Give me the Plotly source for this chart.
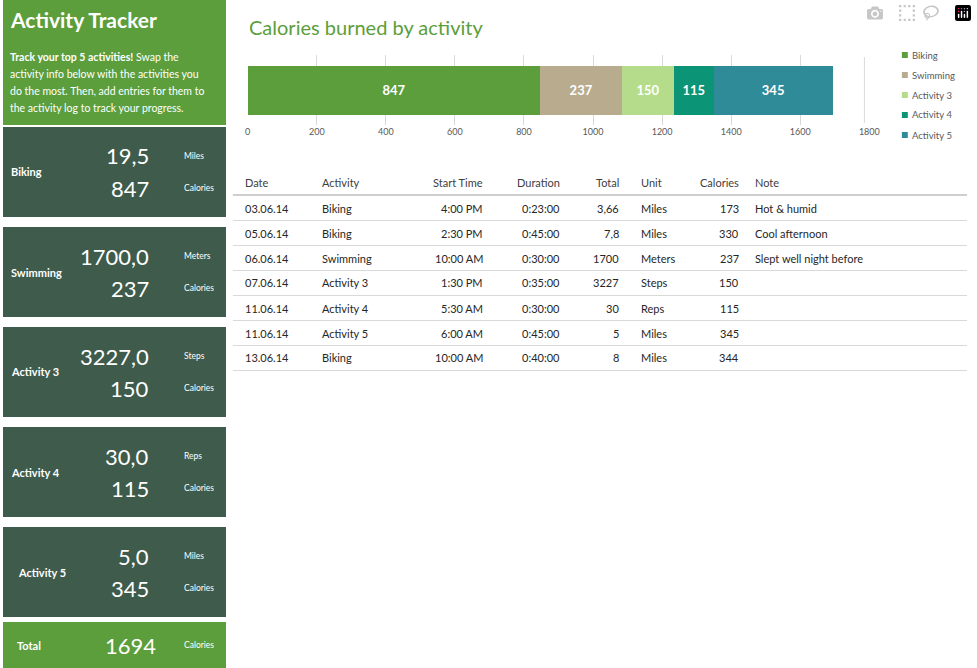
import plotly.graph_objects as go

activities = ["Biking", "Swimming", "Activity 3", "Activity 4", "Activity 5"]
calories = [847, 237, 150, 115, 345]
amounts = ["19,5", "1700,0", "3227,0", "30,0", "5,0"]
units = ["Miles", "Meters", "Steps", "Reps", "Miles"]
bar_colors = ["#5b9e3b", "#b9ac8e", "#b5dc8a", "#0b9475", "#2f8b97"]
total_cal = "1694"

log_dates = ["03.06.14", "05.06.14", "06.06.14", "07.06.14", "11.06.14", "11.06.14", "13.06.14"]
log_act = ["Biking", "Biking", "Swimming", "Activity 3", "Activity 4", "Activity 5", "Biking"]
log_start = ["4:00 PM", "2:30 PM", "10:00 AM", "1:30 PM", "5:30 AM", "6:00 AM", "10:00 AM"]
log_dur = ["0:23:00", "0:45:00", "0:30:00", "0:35:00", "0:30:00", "0:45:00", "0:40:00"]
log_total = ["3,66", "7,8", "1700", "3227", "30", "5", "8"]
log_unit = ["Miles", "Miles", "Meters", "Steps", "Reps", "Miles", "Miles"]
log_cal = ["173", "330", "237", "150", "115", "345", "344"]
log_note = ["Hot & humid", "Cool afternoon", "Slept well night before", "", "", "", ""]
headers = ["Date", "Activity", "Start Time", "Duration", "Total", "Unit", "Calories", "Note"]

W, H = 977, 668
FONT = "Lato"
GREEN = "#5b9e3b"
DARK = "#3e5b4b"

def px(x): return x / W
def py(y): return 1 - y / H

fig = go.Figure()
for a, c, col in zip(activities, calories, bar_colors):
    fig.add_trace(go.Bar(x=[c], y=[0], orientation="h", marker=dict(color=col, line=dict(width=0)),
                         width=0.7, text=["<b>%d</b>" % c], textposition="inside", insidetextanchor="middle",
                         textfont=dict(color="white", size=13, family=FONT), name=a, showlegend=False,
                         hoverinfo="skip"))

shapes, ann = [], []
def rect(x0, y0, x1, y1, color):
    shapes.append(dict(type="rect", xref="paper", yref="paper", x0=px(x0), x1=px(x1),
                       y0=py(y1), y1=py(y0), fillcolor=color, line=dict(width=0), layer="below"))
def line(x0, y0, x1, y1, color, w=1):
    shapes.append(dict(type="line", xref="paper", yref="paper", x0=px(x0), x1=px(x1),
                       y0=py(y0), y1=py(y1), line=dict(color=color, width=w)))
def text(x, y, s, size=11, color="#404040", anchor="left", bold=False):
    if bold: s = "<b>" + s + "</b>"
    ann.append(dict(xref="paper", yref="paper", x=px(x), y=py(y), text=s, showarrow=False,
                    xanchor=anchor, yanchor="middle", font=dict(size=size, color=color, family=FONT)))

# left panel
rect(0, 0, 226, 125, GREEN)
text(5, 19, "Activity Tracker", 21, "white", bold=True)
intro = ["<b>Track your top 5 activities!</b> Swap the", "activity info below with the activities you",
         "do the most. Then, add entries for them to", "the activity log to track your progress."]
for i, s in enumerate(intro):
    text(5, 57 + i * 17, s, 10.5, "white")
for i, a in enumerate(activities):
    top = 127 + i * 100
    rect(0, top, 226, top + 90, DARK)
    mid = top + 45
    text(6 if i != 4 else 13, mid, a, 11, "white", bold=True)
    text(150, mid - 16, amounts[i], 22, "white", anchor="right")
    text(150, mid + 16, str(calories[i]), 22, "white", anchor="right")
    text(181, mid - 16, units[i], 8.5, "white")
    text(181, mid + 16, "Calories", 8.5, "white")
rect(0, 622, 226, 668, GREEN)
text(12, 645, "Total", 11, "white", bold=True)
text(157, 645, total_cal, 22, "white", anchor="right")
text(181, 645, "Calories", 8.5, "white")

# chart title & legend
text(247, 27, "Calories burned by activity", 20, GREEN)
for i, (a, col) in enumerate(zip(activities, bar_colors)):
    y = 55 + i * 20
    rect(911, y - 3, 917, y + 3, col)
    text(919, y, a, 9.5, "#595959")
line(873, 57, 873, 123, "#d9d9d9")

# table
cols_x = [243, 321, 489, 567, 626, 645, 748, 760]
anch = ["left", "left", "right", "right", "right", "left", "right", "left"]
for h, x, a in zip(headers, cols_x, anch):
    text(x, 183, h, 11, "#404040", anchor=a)
line(233, 195, 977, 195, "#bfbfbf", 1.5)
rows = list(zip(log_dates, log_act, log_start, log_dur, log_total, log_unit, log_cal, log_note))
for r, row in enumerate(rows):
    y = 208 + r * 25
    for v, x, a in zip(row, cols_x, anch):
        text(x, y, v, 11, "#262626", anchor=a)
    line(233, y + 12.5, 977, y + 12.5, "#d9d9d9")

fig.update_layout(
    width=W, height=H, margin=dict(l=0, r=0, t=0, b=0), barmode="stack",
    paper_bgcolor="white", plot_bgcolor="white", shapes=shapes, annotations=ann,
    xaxis=dict(domain=[px(248), px(878)], range=[0, 1800], dtick=200, showgrid=True,
               gridcolor="#d9d9d9", zeroline=False, tickfont=dict(size=9, color="#595959", family=FONT),
               showline=False, fixedrange=True),
    yaxis=dict(domain=[py(125), py(55)], range=[-0.5, 0.5], showticklabels=False, showgrid=False,
               zeroline=False, fixedrange=True),
)
fig.write_html("out.html")
with open("out.html", encoding="utf-8") as f:
    html = f.read()
html = html.replace("<body>", '<body style="margin:0;padding:0;overflow:hidden">', 1)
with open("out.html", "w", encoding="utf-8") as f:
    f.write(html)
